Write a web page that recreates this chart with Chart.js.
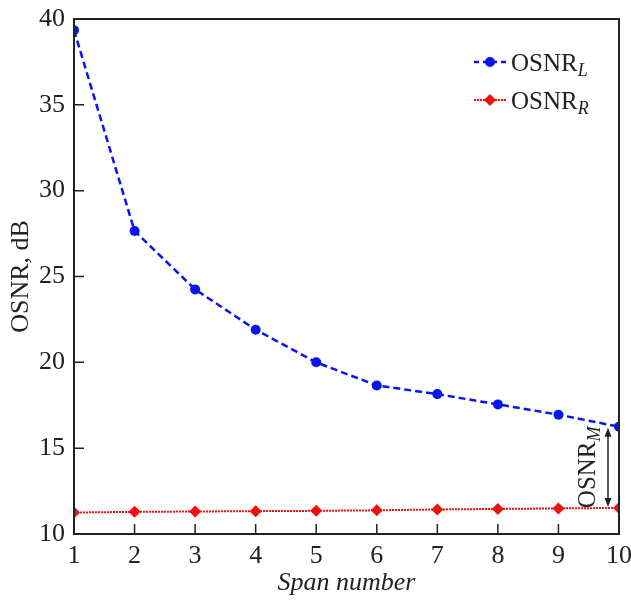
<!DOCTYPE html>
<html>
<head>
<meta charset="utf-8">
<script src="https://cdn.jsdelivr.net/npm/chart.js@4"></script>
<style>
    html, body { margin: 0; padding: 0; background: #fff; }
    #wrap { width: 631px; height: 601px; }
</style>
</head>
<body>
<div id="wrap"><canvas id="osnr-chart" width="631" height="601"></canvas></div>
<script>
// Données
const spans = [1, 2, 3, 4, 5, 6, 7, 8, 9, 10];
const osnrL = [39.35, 27.65, 24.25, 21.9, 20.0, 18.65, 18.15, 17.55, 16.95, 16.25];
const osnrR = [11.25, 11.29, 11.31, 11.33, 11.35, 11.38, 11.43, 11.46, 11.49, 11.52];
const yTicks = [10, 15, 20, 25, 30, 35, 40];

const serif = '"Liberation Serif", "Times New Roman", Times, serif';
const ink = '#222';
const blue = '#0a14f0';
const red = '#f01010';

function toPoints(values) {
    return spans.map((s, i) => ({ x: s, y: values[i] }));
}

// Cadre + graduations vers l'intérieur
const framePlugin = {
    id: 'frame',
    afterDraw(chart) {
        const { ctx, chartArea: a, scales } = chart;
        ctx.save();
        ctx.strokeStyle = ink;
        ctx.lineWidth = 2;
        ctx.strokeRect(a.left, a.top, a.right - a.left, a.bottom - a.top);
        ctx.lineWidth = 1.5;
        ctx.beginPath();
        scales.x.ticks.forEach(t => {
            const px = scales.x.getPixelForValue(t.value);
            ctx.moveTo(px, a.bottom);
            ctx.lineTo(px, a.bottom - 10);
        });
        scales.y.ticks.forEach(t => {
            const py = scales.y.getPixelForValue(t.value);
            ctx.moveTo(a.left, py);
            ctx.lineTo(a.left + 10, py);
        });
        ctx.stroke();
        ctx.restore();
    }
};

function drawSubLabel(ctx, x, y, main, sub) {
    ctx.font = '25px ' + serif;
    ctx.fillStyle = ink;
    ctx.textBaseline = 'alphabetic';
    ctx.textAlign = 'left';
    ctx.fillText(main, x, y);
    const w = ctx.measureText(main).width;
    ctx.font = 'italic 18px ' + serif;
    ctx.fillText(sub, x + w, y + 5);
}

// Légende dessinée à la main (indices en italique)
const legendPlugin = {
    id: 'customLegend',
    afterDraw(chart) {
        const ctx = chart.ctx;
        const items = [
            { y: 62, color: blue, dash: [5, 4], width: 2.5, style: 'circle', r: 5, sub: 'L' },
            { y: 100, color: red, dash: [2, 1], width: 2, style: 'rectRot', r: 6, sub: 'R' }
        ];
        items.forEach(it => {
            ctx.save();
            ctx.strokeStyle = it.color;
            ctx.lineWidth = it.width;
            ctx.setLineDash(it.dash);
            ctx.beginPath();
            ctx.moveTo(474, it.y);
            ctx.lineTo(507, it.y);
            ctx.stroke();
            ctx.setLineDash([]);
            ctx.fillStyle = it.color;
            Chart.helpers.drawPoint(ctx, { pointStyle: it.style, radius: it.r, borderWidth: 0 }, 490, it.y);
            ctx.restore();
            ctx.save();
            drawSubLabel(ctx, 511, it.y + 9, 'OSNR', it.sub);
            ctx.restore();
        });
    }
};

// Flèche OSNR_M entre les deux courbes au dernier span
const marginPlugin = {
    id: 'marginArrow',
    afterDatasetsDraw(chart) {
        const { ctx, scales } = chart;
        const last = spans.length - 1;
        const x = scales.x.getPixelForValue(spans[last]) - 11;
        const y1 = scales.y.getPixelForValue(osnrL[last]) + 1;
        const y2 = scales.y.getPixelForValue(osnrR[last]) - 1;
        ctx.save();
        ctx.strokeStyle = ink;
        ctx.fillStyle = ink;
        ctx.lineWidth = 1.5;
        ctx.beginPath();
        ctx.moveTo(x, y1 + 4);
        ctx.lineTo(x, y2 - 4);
        ctx.stroke();
        ctx.beginPath();
        ctx.moveTo(x, y1);
        ctx.lineTo(x - 3.5, y1 + 9);
        ctx.lineTo(x + 3.5, y1 + 9);
        ctx.closePath();
        ctx.fill();
        ctx.beginPath();
        ctx.moveTo(x, y2);
        ctx.lineTo(x - 3.5, y2 - 9);
        ctx.lineTo(x + 3.5, y2 - 9);
        ctx.closePath();
        ctx.fill();
        ctx.translate(x - 13, (y1 + y2) / 2);
        ctx.rotate(-Math.PI / 2);
        ctx.font = '25px ' + serif;
        const w1 = ctx.measureText('OSNR').width;
        ctx.font = 'italic 18px ' + serif;
        const w2 = ctx.measureText('M').width;
        ctx.textAlign = 'left';
        ctx.textBaseline = 'alphabetic';
        ctx.font = '25px ' + serif;
        ctx.fillText('OSNR', -(w1 + w2) / 2, 0);
        ctx.font = 'italic 18px ' + serif;
        ctx.fillText('M', -(w1 + w2) / 2 + w1, 5);
        ctx.restore();
    }
};

new Chart(document.getElementById('osnr-chart'), {
    type: 'line',
    data: {
        datasets: [
            {
                label: 'OSNR_L',
                data: toPoints(osnrL),
                borderColor: blue,
                backgroundColor: blue,
                borderWidth: 2.5,
                borderDash: [7, 4],
                pointStyle: 'circle',
                pointRadius: 5,
                pointBorderWidth: 0,
                tension: 0,
                fill: false
            },
            {
                label: 'OSNR_R',
                data: toPoints(osnrR),
                borderColor: red,
                backgroundColor: red,
                borderWidth: 2,
                borderDash: [2, 1],
                pointStyle: 'rectRot',
                pointRadius: 6,
                pointBorderWidth: 0,
                tension: 0,
                fill: false
            }
        ]
    },
    options: {
        responsive: false,
        animation: false,
        layout: { padding: { top: 19, right: 12, left: 0, bottom: 0 } },
        plugins: {
            legend: { display: false },
            tooltip: { enabled: false }
        },
        scales: {
            x: {
                type: 'linear',
                min: 1,
                max: 10,
                afterFit: function(scale) {
                    scale.height = 67;
                    scale.paddingLeft = 0;
                    scale.paddingRight = 0;
                },
                afterBuildTicks: function(scale) {
                    scale.ticks = spans.map(v => ({ value: v }));
                },
                grid: { display: false, drawTicks: false },
                border: { display: false },
                ticks: {
                    color: ink,
                    font: { family: serif, size: 26 },
                    padding: 7,
                    maxRotation: 0
                },
                title: {
                    display: true,
                    text: 'Span number',
                    color: ink,
                    font: { family: serif, size: 26, style: 'italic' },
                    padding: { top: 0, bottom: 2 }
                }
            },
            y: {
                min: 10,
                max: 40,
                afterFit: function(scale) {
                    scale.width = 74;
                    scale.paddingTop = 0;
                    scale.paddingBottom = 0;
                },
                afterBuildTicks: function(scale) {
                    scale.ticks = yTicks.map(v => ({ value: v }));
                },
                grid: { display: false, drawTicks: false },
                border: { display: false },
                ticks: {
                    color: ink,
                    font: { family: serif, size: 26 },
                    padding: 9
                },
                title: {
                    display: true,
                    text: 'OSNR, dB',
                    color: ink,
                    font: { family: serif, size: 26 },
                    padding: { top: 6, bottom: 0 }
                }
            }
        }
    },
    plugins: [framePlugin, legendPlugin, marginPlugin]
});
</script>
</body>
</html>
